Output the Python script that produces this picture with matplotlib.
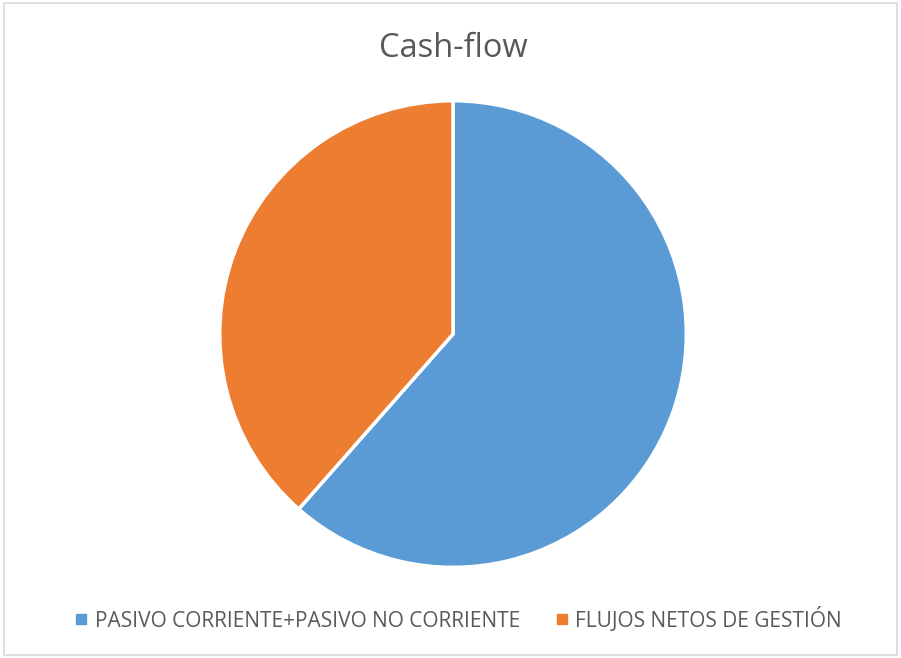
import matplotlib.pyplot as plt
from matplotlib.lines import Line2D
from matplotlib.patches import Rectangle

labels = ['PASIVO CORRIENTE+PASIVO NO CORRIENTE', 'FLUJOS NETOS DE GESTIÓN']
values = [61.5, 38.5]
slice_colors = ['#5B9BD5', '#ED7D31']

plt.rcParams['font.family'] = ['Open Sans', 'DejaVu Sans']

fig = plt.figure(figsize=(9.01, 6.58), dpi=100)
fig.patches.append(Rectangle((0.004, 0.004), 0.992, 0.991, transform=fig.transFigure,
                             fill=False, edgecolor='#D9D9D9', linewidth=1.2))

ax = fig.add_axes((0.2464, 0.1413, 0.5128, 0.702))
ax.pie(values, colors=slice_colors, startangle=90, counterclock=False,
       wedgeprops=dict(edgecolor='white', linewidth=2.5))
ax.set_xlim(-0.99, 0.99)
ax.set_ylim(-0.99, 0.99)
ax.set_aspect('equal')

fig.text(0.5028, 0.927, 'Cash-flow', ha='center', va='center', fontsize=23.5, color='#595959')

handles = [Line2D([0], [0], marker='s', linestyle='', markersize=7,
                  markerfacecolor=c, markeredgecolor=c) for c in slice_colors]
fig.legend(handles, labels, loc='center', bbox_to_anchor=(0.509, 0.059), ncol=2,
           frameon=False, fontsize=15, labelcolor='#595959',
           handlelength=0.6, handletextpad=0.35, columnspacing=1.7)

fig.savefig('out.png', dpi=100)
